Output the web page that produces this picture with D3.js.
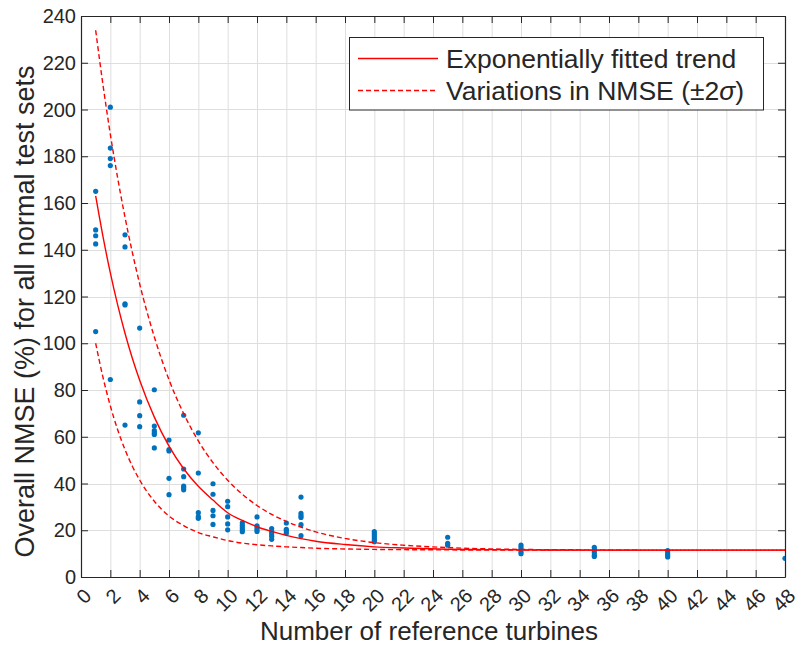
<!DOCTYPE html>
<html><head><meta charset="utf-8">
<script src="https://cdn.jsdelivr.net/npm/d3@7"></script>
<style>body{margin:0;background:#fff}svg{display:block}text{font-family:"Liberation Sans",Arial,Helvetica,sans-serif;fill:#262626}</style>
</head><body><svg id="c" width="797" height="646"></svg>
<script>
// ---- data ----
const refTurbines = [1,2,3,4,5,6,7,8,9,10,11,12,13,14,15,20,25,30,35,40,48];
const nmseByCount = [
  [165,148.5,146,142.5,105],
  [201,183.5,179,176,84.5],
  [146.4,141.2,116.9,116.4,65],
  [106.5,74.9,69,64.3],
  [80.1,64.6,62.6,61.7,61.0,55.2],
  [58.6,54.5,53.9,42.2,35.2],
  [69.2,46.2,42.9,38.9,38.2,37.3],
  [61.7,44.5,27.5,25.8,25.1],
  [39.9,35.4,28.5,26.2,22.5],
  [32.4,30.1,25.7,22.7,20.2],
  [23.2,22.1,21.1,20.2,19.4],
  [25.7,21.9,21.1,20.2,19.5],
  [20.7,19.4,18.4,17.4,16.1],
  [23.1,20.4,19.7,18.7],
  [34.2,27.2,26.2,25.5,22.4,17.7],
  [19.4,18.5,17.6,16.7,15.8,15.1],
  [17.0,14.4,13.6],
  [13.7,12.8,11.8,10.8,10.0],
  [12.7,11.6,10.5,9.4,8.8],
  [11.3,10.3,9.4,8.6],
  [8.0]
];
const trendX = [1,1.5,2,2.5,3,3.5,4,5,6,7,8,9,10,11,12,13,14,15,16,18,20,22,25,28,30,35,40,48];
const trendFit = [163.0,145.6,130.1,116.4,104.3,93.6,84.2,68.4,56.0,46.3,38.8,32.9,27.5,24.2,21.5,19.5,17.8,16.4,15.3,13.9,12.9,12.4,11.9,11.7,11.6,11.5,11.5,11.5];
const trendUpper = [233.9,210.5,189.4,170.7,153.9,138.9,125.4,102.7,84.4,69.9,58.2,48.9,41.4,35.4,30.6,26.8,23.8,21.3,19.3,16.5,14.7,13.6,12.6,12.0,11.8,11.6,11.5,11.5];
const trendLower = [100,85.4,73.2,63.0,54.5,47.4,41.5,32.4,26.1,22.0,19.0,17.2,15.6,14.5,13.8,13.3,12.9,12.6,12.3,12.0,11.8,11.7,11.6,11.5,11.5,11.5,11.5,11.5];
const xTicks = d3.range(0, 49, 2);
const yTicks = d3.range(0, 241, 20);
const legendLabels = ["Exponentially fitted trend", "Variations in NMSE (\u00B12\u03C3)"];

// ---- layout ----
const L = 81, R = 785, T = 16, B = 577;
const svg = d3.select("#c");
const x = d3.scaleLinear().domain([0,48]).range([L,R]);
const y = d3.scaleLinear().domain([0,240]).range([B,T]);
const axisCol = "#262626";

// grid
const g = svg.append("g");
g.selectAll(".gx").data(xTicks).join("line")
  .attr("x1", d=>x(d)+0.5).attr("x2", d=>x(d)+0.5).attr("y1", T).attr("y2", B)
  .attr("stroke", "#dedede").attr("stroke-width", 1);
g.selectAll(".gy").data(yTicks).join("line")
  .attr("y1", d=>Math.round(y(d))+0.5).attr("y2", d=>Math.round(y(d))+0.5).attr("x1", L).attr("x2", R)
  .attr("stroke", "#dedede").attr("stroke-width", 1);

// axes via d3 axis (ticks inward)
const tickLen = 7;
const ax = svg.append("g").attr("transform", `translate(0,${B})`)
  .call(d3.axisBottom(x).tickValues(xTicks).tickSizeInner(-tickLen).tickSizeOuter(0).tickFormat(""));
const axTop = svg.append("g").attr("transform", `translate(0,${T})`)
  .call(d3.axisTop(x).tickValues(xTicks).tickSizeInner(-tickLen).tickSizeOuter(0).tickFormat(""));
const ay = svg.append("g").attr("transform", `translate(${L},0)`)
  .call(d3.axisLeft(y).tickValues(yTicks).tickSizeInner(-tickLen).tickSizeOuter(0).tickFormat(""));
const ayR = svg.append("g").attr("transform", `translate(${R},0)`)
  .call(d3.axisRight(y).tickValues(yTicks).tickSizeInner(-tickLen).tickSizeOuter(0).tickFormat(""));
[ax, axTop, ay, ayR].forEach(a => {
  a.selectAll("path").attr("stroke", axisCol).attr("stroke-width", 1.2);
  a.selectAll("line").attr("stroke", axisCol).attr("stroke-width", 1);
});

// tick labels
svg.append("g").selectAll("text").data(yTicks).join("text")
  .attr("x", L-5).attr("y", d=>y(d)).attr("dy", "0.35em")
  .attr("text-anchor", "end").attr("font-size", 20).text(d=>d);
svg.append("g").selectAll("text").data(xTicks).join("text")
  .attr("transform", d=>`translate(${x(d)+1.5},${B+10}) rotate(-45)`)
  .attr("dy", "0.71em").attr("text-anchor", "end").attr("font-size", 20).text(d=>d);

// axis titles
svg.append("text").attr("x", 429).attr("y", 640).attr("text-anchor", "middle")
  .attr("font-size", 26).text("Number of reference turbines");
svg.append("text").attr("transform", `translate(34,311.5) rotate(-90)`)
  .attr("text-anchor", "middle").attr("font-size", 27).text("Overall NMSE (%) for all normal test sets");

// clip
svg.append("clipPath").attr("id","clip").append("rect").attr("x",L).attr("y",T).attr("width",R-L).attr("height",B-T);
const plot = svg.append("g").attr("clip-path","url(#clip)");

// scatter
const pts = refTurbines.flatMap((n,i)=>nmseByCount[i].map(v=>({n, v})));
plot.selectAll("circle").data(pts).join("circle")
  .attr("cx", d=>x(d.n)).attr("cy", d=>y(d.v)).attr("r", 2.6).attr("fill", "#0072BD");

// trend lines
const line = vals => d3.line().x((d,i)=>x(trendX[i])).y(d=>y(d)).curve(d3.curveMonotoneX)(vals);
plot.append("path").attr("d", line(trendFit)).attr("fill","none").attr("stroke","#ff0000").attr("stroke-width",1.4);
[trendUpper, trendLower].forEach(vals =>
  plot.append("path").attr("d", line(vals)).attr("fill","none").attr("stroke","#ff0000")
    .attr("stroke-width",1.4).attr("stroke-dasharray","5,3"));

// legend
const lg = svg.append("g");
lg.append("rect").attr("x",349.5).attr("y",37.5).attr("width",414).attr("height",72.5)
  .attr("fill","#fff").attr("stroke",axisCol).attr("stroke-width",1);
const rows = [58.5, 90.5];
rows.forEach((ry,i)=>{
  lg.append("line").attr("x1",358).attr("x2",438).attr("y1",ry).attr("y2",ry)
    .attr("stroke","#ff0000").attr("stroke-width",1.4).attr("stroke-dasharray", i ? "5,3" : null);
});
lg.append("text").attr("x",446).attr("y",rows[0]+9).attr("font-size",26.5).text(legendLabels[0]);
const t2 = lg.append("text").attr("x",446).attr("y",rows[1]+9).attr("font-size",26.5);
const lbl = legendLabels[1];
const sigIdx = lbl.indexOf("\u03C3");
t2.append("tspan").text(lbl.slice(0, sigIdx));
t2.append("tspan").attr("font-style","italic").text(lbl[sigIdx]);
t2.append("tspan").text(lbl.slice(sigIdx+1));
</script></body></html>
